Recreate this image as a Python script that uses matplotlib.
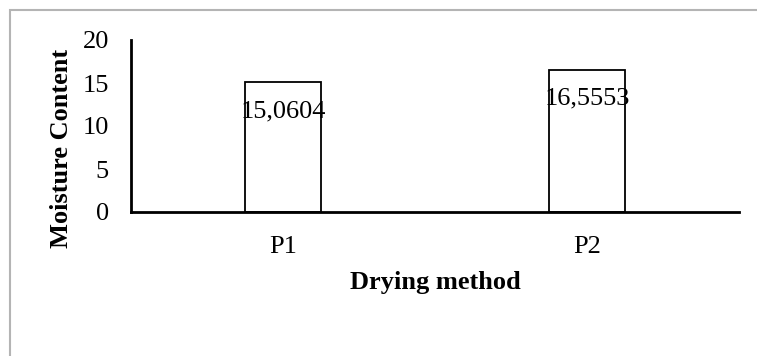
import matplotlib.pyplot as plt
from matplotlib.patches import Rectangle

# moisture content per drying method
methods = ['P1', 'P2']
moisture = [15.0604, 16.5553]
labels = ['15,0604', '16,5553']
yticks = [0, 5, 10, 15, 20]

W, H = 757, 356
FS = 19
plt.rcParams['font.family'] = ['Liberation Serif', 'DejaVu Serif']

fig = plt.figure(figsize=(W / 100, H / 100), dpi=100)

# grey frame round the chart area
fig.patches.append(Rectangle((10 / W, -0.1), 1.2, (H - 10) / H + 0.1,
                             transform=fig.transFigure, fill=False,
                             edgecolor='#b4b4b4', linewidth=1.5))

ax = fig.add_axes([131 / W, (H - 212) / H, (739 - 131) / W, (212 - 40) / H])
x = range(len(methods))
ax.bar(x, moisture, width=0.25, color='white', edgecolor='black', linewidth=1.3)

for xi, v, lab in zip(x, moisture, labels):
    ax.annotate(lab, (xi, v), xytext=(0, -21), textcoords='offset points',
                ha='center', va='center', fontsize=FS)

ax.set_xlim(-0.5, 1.5)
ax.set_ylim(0, 20)
ax.set_yticks(yticks)
ax.set_xticks(list(x))
ax.set_xticklabels(methods)
ax.tick_params(axis='both', length=0, labelsize=FS)
ax.tick_params(axis='x', pad=17)
ax.tick_params(axis='y', pad=16)

for s in ['top', 'right']:
    ax.spines[s].set_visible(False)
for s in ['left', 'bottom']:
    ax.spines[s].set_linewidth(2)

fig.text(435 / W, 1 - 283 / H, 'Drying method', ha='center', va='center',
         fontsize=FS, fontweight='bold')
fig.text(62 / W, 1 - 148 / H, 'Moisture Content', ha='center', va='center',
         rotation=90, fontsize=FS, fontweight='bold')

fig.savefig('out.png', dpi=100)
